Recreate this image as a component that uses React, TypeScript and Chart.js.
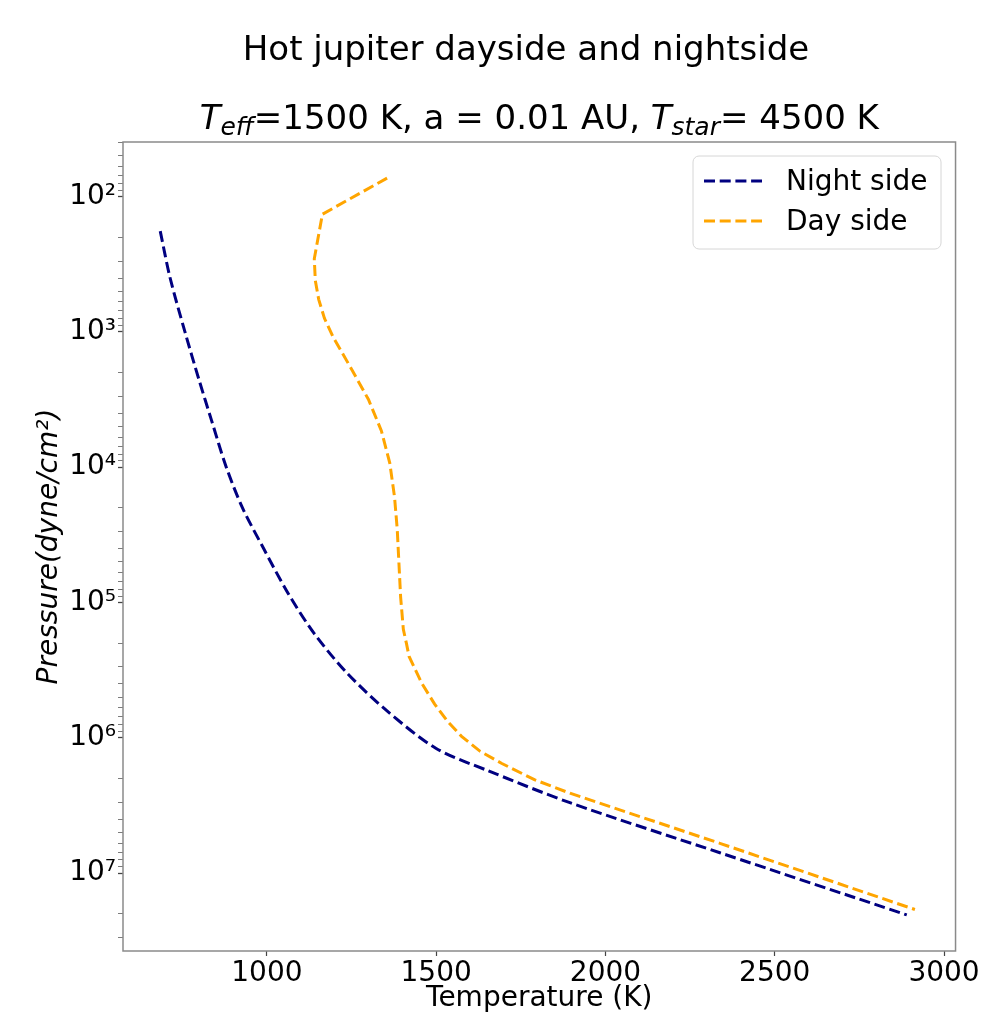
import React, { useEffect, useRef } from "react";
import { Chart, registerables } from "chart.js";

Chart.register(...registerables);

// ---- data ----
const nightTemp = [685, 714, 758, 799, 836, 880, 928, 990, 1062, 1140, 1236, 1354, 1500, 1650, 1895, 2338, 2890];
const nightPressure = [180, 398, 1000, 2240, 4470, 10000, 20000, 39800, 85100, 170000, 331000, 631000, 1200000, 1740000, 3020000, 7080000, 20400000];

const dayTemp = [1355, 1164, 1140, 1143, 1153, 1170, 1196, 1251, 1300, 1338, 1363, 1377, 1385, 1390, 1395, 1403, 1412, 1420, 1458, 1495, 1534, 1575, 1630, 1694, 1790, 1895, 2338, 2914];
const dayPressure = [73, 135, 288, 417, 575, 794, 1096, 1905, 3162, 5370, 9330, 16600, 28800, 51300, 91200, 158000, 200000, 251000, 398000, 562000, 759000, 977000, 1260000, 1550000, 2040000, 2570000, 6030000, 18600000];

const seriesNames = ["Night side", "Day side"];
const seriesColors = ["#000080", "#FFA500"];

const xTickValues = [1000, 1500, 2000, 2500, 3000];
const yTickValues = [1e2, 1e3, 1e4, 1e5, 1e6, 1e7];
const yTickLabels = ["10²", "10³", "10⁴", "10⁵", "10⁶", "10⁷"];

const titleLine1 = "Hot jupiter dayside and nightside";
const xTitle = "Temperature (K)";
const yTitle = "Pressure(dyne/cm²)";

const X_MIN = 575;
const X_MAX = 3034;
const Y_MIN = 39.5;
const Y_MAX = 3.77e7;

const FONT = '"DejaVu Sans", "Liberation Sans", sans-serif';
const TITLE_SIZE = 34;
const SUB_SIZE = 25;
const LABEL_SIZE = 28;

function yMinorValues(): number[] {
  const out: number[] = [];
  for (let e = 1; e <= 7; e++) {
    for (let m = 1; m <= 9; m++) {
      const v = m * Math.pow(10, e);
      if (v >= Y_MIN && v <= Y_MAX) out.push(v);
    }
  }
  return out;
}

function isPow10(v: number) {
  const e = Math.log10(v);
  return Math.abs(e - Math.round(e)) < 1e-9;
}

const overlayPlugin = {
  id: "overlay",
  afterDraw(chart: any) {
    const { ctx, chartArea: a } = chart;
    ctx.save();
    // frame (all four spines)
    ctx.strokeStyle = "#8a8a8a";
    ctx.lineWidth = 1.5;
    ctx.setLineDash([]);
    ctx.strokeRect(a.left, a.top, a.right - a.left, a.bottom - a.top);

    // title line 1
    ctx.fillStyle = "#000";
    ctx.textBaseline = "alphabetic";
    ctx.textAlign = "left";
    ctx.font = `${TITLE_SIZE}px ${FONT}`;
    const w1 = ctx.measureText(titleLine1).width;
    ctx.fillText(titleLine1, 526 - w1 / 2, 60);

    // title line 2 with italic T and subscripts
    const segs = [
      { t: "T", f: `italic ${TITLE_SIZE}px ${FONT}`, dy: 0 },
      { t: "eff", f: `italic ${SUB_SIZE}px ${FONT}`, dy: 6 },
      { t: "=1500 K, a = 0.01 AU, ", f: `${TITLE_SIZE}px ${FONT}`, dy: 0 },
      { t: "T", f: `italic ${TITLE_SIZE}px ${FONT}`, dy: 0 },
      { t: "star", f: `italic ${SUB_SIZE}px ${FONT}`, dy: 6 },
      { t: "= 4500 K", f: `${TITLE_SIZE}px ${FONT}`, dy: 0 },
    ];
    let total = 0;
    const widths = segs.map((s) => {
      ctx.font = s.f;
      const w = ctx.measureText(s.t).width;
      total += w;
      return w;
    });
    let x = (a.left + a.right) / 2 - total / 2;
    segs.forEach((s, i) => {
      ctx.font = s.f;
      ctx.fillText(s.t, x, 129 + s.dy);
      x += widths[i];
    });

    // legend
    const lx = 693, ly = 156, lw = 248, lh = 93, r = 6;
    ctx.beginPath();
    ctx.moveTo(lx + r, ly);
    ctx.lineTo(lx + lw - r, ly);
    ctx.arcTo(lx + lw, ly, lx + lw, ly + r, r);
    ctx.lineTo(lx + lw, ly + lh - r);
    ctx.arcTo(lx + lw, ly + lh, lx + lw - r, ly + lh, r);
    ctx.lineTo(lx + r, ly + lh);
    ctx.arcTo(lx, ly + lh, lx, ly + lh - r, r);
    ctx.lineTo(lx, ly + r);
    ctx.arcTo(lx, ly, lx + r, ly, r);
    ctx.closePath();
    ctx.fillStyle = "rgba(255,255,255,0.85)";
    ctx.fill();
    ctx.strokeStyle = "#d6d6d6";
    ctx.lineWidth = 1;
    ctx.stroke();

    const rowsY = [181, 221];
    seriesNames.forEach((name, i) => {
      ctx.beginPath();
      ctx.setLineDash([11, 4.7]);
      ctx.strokeStyle = seriesColors[i];
      ctx.lineWidth = 3;
      ctx.moveTo(704, rowsY[i]);
      ctx.lineTo(762, rowsY[i]);
      ctx.stroke();
      ctx.setLineDash([]);
      ctx.fillStyle = "#000";
      ctx.font = `${LABEL_SIZE}px ${FONT}`;
      ctx.textBaseline = "alphabetic";
      ctx.fillText(name, 786, rowsY[i] + 9);
    });
    ctx.restore();
  },
};

export default function App() {
  const ref = useRef<HTMLCanvasElement | null>(null);

  useEffect(() => {
    document.body.style.margin = "0";
    const canvas = ref.current;
    if (!canvas) return;
    const night = nightTemp.map((t, i) => ({ x: t, y: nightPressure[i] }));
    const day = dayTemp.map((t, i) => ({ x: t, y: dayPressure[i] }));
    const chart = new Chart(canvas, {
      type: "scatter",
      data: {
        datasets: [
          {
            label: seriesNames[0],
            data: night,
            showLine: true,
            borderColor: seriesColors[0],
            backgroundColor: seriesColors[0],
            borderWidth: 3,
            borderDash: [11, 4.7],
            pointRadius: 0,
            tension: 0.3,
          },
          {
            label: seriesNames[1],
            data: day,
            showLine: true,
            borderColor: seriesColors[1],
            backgroundColor: seriesColors[1],
            borderWidth: 3,
            borderDash: [11, 4.7],
            pointRadius: 0,
            tension: 0,
          },
        ],
      },
      options: {
        animation: false,
        responsive: false,
        devicePixelRatio: 1,
        layout: { padding: { top: 142, right: 25, left: 0, bottom: 0 } },
        plugins: {
          legend: { display: false },
          title: { display: false },
          tooltip: { enabled: false },
        },
        scales: {
          x: {
            type: "linear",
            min: X_MIN,
            max: X_MAX,
            afterBuildTicks: (scale: any) => {
              scale.ticks = xTickValues.map((v) => ({ value: v }));
            },
            afterFit: (scale: any) => {
              scale.height = 61;
            },
            border: { display: false },
            grid: {
              drawOnChartArea: false,
              drawTicks: true,
              tickLength: 5,
              tickColor: "#444",
              tickWidth: 1.2,
            },
            ticks: {
              autoSkip: false,
              maxRotation: 0,
              padding: 1,
              color: "#000",
              font: { family: FONT, size: LABEL_SIZE },
              callback: (v: any) => String(v),
            },
            title: {
              display: true,
              text: xTitle,
              color: "#000",
              font: { family: FONT, size: LABEL_SIZE, lineHeight: 1 },
              padding: { top: 0, bottom: -1 },
            },
          },
          y: {
            type: "logarithmic",
            min: Y_MIN,
            max: Y_MAX,
            reverse: true,
            afterBuildTicks: (scale: any) => {
              scale.ticks = yMinorValues().map((v) => ({ value: v, major: false }));
            },
            afterFit: (scale: any) => {
              scale.width = 123;
            },
            border: { display: false },
            grid: {
              drawOnChartArea: false,
              drawTicks: true,
              tickLength: 5,
              tickColor: "#444",
              tickWidth: (c: any) => (c.tick && isPow10(c.tick.value) ? 1.3 : 0.7),
            },
            ticks: {
              autoSkip: false,
              padding: 2,
              color: "#000",
              font: { family: FONT, size: LABEL_SIZE },
              callback: (v: any) => {
                const idx = yTickValues.findIndex((p) => Math.abs(p - Number(v)) / p < 1e-9);
                return idx >= 0 ? yTickLabels[idx] : "";
              },
            },
            title: {
              display: true,
              text: yTitle,
              color: "#000",
              font: { family: FONT, size: LABEL_SIZE, style: "italic", lineHeight: 1 },
              padding: { top: 36, bottom: 0 },
            },
          },
        },
      },
      plugins: [overlayPlugin],
    } as any);
    return () => chart.destroy();
  }, []);

  return (
    <div style={{ width: 981, height: 1012, background: "#fff" }}>
      <canvas ref={ref} width={981} height={1012} style={{ display: "block" }} />
    </div>
  );
}
